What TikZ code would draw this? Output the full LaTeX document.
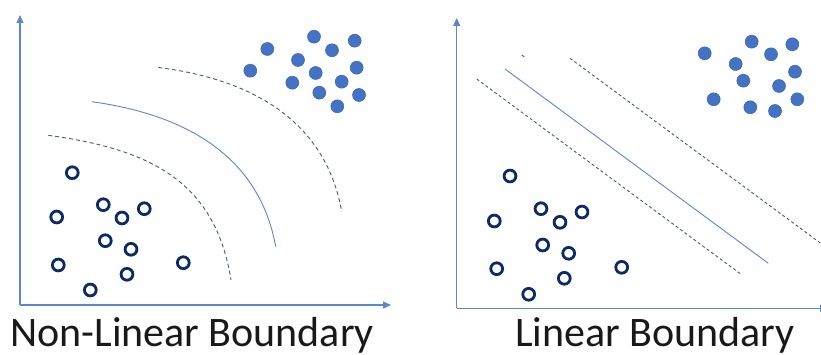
\documentclass[tikz,border=0pt]{standalone}
\usepackage{fontspec}
\setmainfont{Carlito}
\usetikzlibrary{arrows.meta}
\definecolor{axisblue}{HTML}{5B86D0}
\definecolor{dotblue}{HTML}{4472C4}
\definecolor{dotedge}{HTML}{3A64AE}
\definecolor{navy}{HTML}{0B2A66}
\definecolor{slate}{HTML}{4A5A78}
\definecolor{lineblue}{HTML}{5B86D0}
\begin{document}
\begin{tikzpicture}[x=1pt,y=-1pt,
  axis/.style={draw=axisblue,line width=1.1pt,-{Triangle[length=8pt,width=7pt]}},
  fdot/.style={circle,fill=dotblue,draw=dotedge,line width=0.5pt,minimum size=13pt,inner sep=0pt},
  odot/.style={circle,draw=navy,line width=2.8pt,minimum size=11.8pt,inner sep=0pt},
  margin/.style={draw=slate,line width=0.9pt,dash pattern=on 4pt off 3pt},
  margintwo/.style={draw=slate,line width=0.9pt,dash pattern=on 3pt off 2.5pt},
  boundary/.style={draw=lineblue,line width=0.9pt},
  label/.style={anchor=base west,inner sep=0pt,text=black!90,font=\fontsize{42}{42}\selectfont}]
\useasboundingbox (0,0) rectangle (821,355);
\clip (0,0) rectangle (821,355);

% ---------- left panel ----------
\coordinate (lo) at (20,305);
\coordinate (ly) at (20,15);
\coordinate (lx) at (391,305);
\draw[axis] (lo) -- (ly);
\draw[axis] (lo) -- (lx);

\coordinate (a0) at (48.3,135.3);
\coordinate (a3) at (231,280);
\draw[margin] (a0) .. controls (148.3,149) and (215,180) .. (a3);
\coordinate (b0) at (91.7,101.7);
\coordinate (b3) at (275.7,246.7);
\draw[boundary] (b0) .. controls (183.7,114.3) and (259.1,154.7) .. (b3);
\coordinate (c0) at (158.3,67.5);
\coordinate (c3) at (341.7,211.7);
\draw[margin] (c0) .. controls (250.3,78.9) and (325.5,119.7) .. (c3);

\node[fdot] (lf1) at (267.3,49) {};
\node[fdot] (lf2) at (314,36.7) {};
\node[fdot] (lf3) at (354.7,40.7) {};
\node[fdot] (lf4) at (332,50.3) {};
\node[fdot] (lf5) at (298,60) {};
\node[fdot] (lf6) at (250.3,70.7) {};
\node[fdot] (lf7) at (315.7,73) {};
\node[fdot] (lf8) at (356.7,67.7) {};
\node[fdot] (lf9) at (292.3,82.7) {};
\node[fdot] (lf10) at (341.7,81.7) {};
\node[fdot] (lf11) at (319.3,92.7) {};
\node[fdot] (lf12) at (359,95) {};
\node[fdot] (lf13) at (337.3,106.3) {};

\node[odot] (lo1) at (72.3,172.7) {};
\node[odot] (lo2) at (103.3,204.7) {};
\node[odot] (lo3) at (144.3,208.7) {};
\node[odot] (lo4) at (56.7,217) {};
\node[odot] (lo5) at (122,218) {};
\node[odot] (lo6) at (105.3,240.7) {};
\node[odot] (lo7) at (131,249.3) {};
\node[odot] (lo8) at (58.3,265) {};
\node[odot] (lo9) at (183.3,262.7) {};
\node[odot] (lo10) at (127,274.3) {};
\node[odot] (lo11) at (90.3,290) {};

\node[label] (t1) at (10,346) {Non-Linear Boundary};

% ---------- right panel ----------
\coordinate (ro) at (456.7,308.3);
\coordinate (ry) at (456.7,18);
\coordinate (rx) at (828,308.3);
\draw[axis] (ro) -- (ry);
\draw[axis] (ro) -- (rx);

\coordinate (d0) at (476.7,79);
\coordinate (d1) at (740.7,274);
\draw[margintwo] (d0) -- (d1);
\coordinate (e0) at (505,69);
\coordinate (e1) at (768.3,263.3);
\draw[boundary] (e0) -- (e1);
\coordinate (f0) at (570,58.3);
\coordinate (f1) at (821,243.5);
\draw[margintwo] (f0) -- (f1);
\coordinate (g0) at (521.7,55);
\coordinate (g1) at (524.3,56.9);
\draw[draw=slate,line width=0.9pt] (g0) -- (g1);

\node[fdot] (rf1) at (704.7,53.3) {};
\node[fdot] (rf2) at (751.7,41.7) {};
\node[fdot] (rf3) at (792.3,44.3) {};
\node[fdot] (rf4) at (771,54.3) {};
\node[fdot] (rf5) at (735.7,64) {};
\node[fdot] (rf6) at (795,71.7) {};
\node[fdot] (rf7) at (743.3,80.7) {};
\node[fdot] (rf8) at (779,86) {};
\node[fdot] (rf9) at (713.7,99.3) {};
\node[fdot] (rf10) at (797.3,99.3) {};
\node[fdot] (rf11) at (750.3,107.3) {};
\node[fdot] (rf12) at (775,111) {};

\node[odot] (ro1) at (510,176) {};
\node[odot] (ro2) at (541,208.7) {};
\node[odot] (ro3) at (582,212) {};
\node[odot] (ro4) at (494.3,221) {};
\node[odot] (ro5) at (560,222.3) {};
\node[odot] (ro6) at (542.7,245) {};
\node[odot] (ro7) at (568.7,253.3) {};
\node[odot] (ro8) at (496.7,268.7) {};
\node[odot] (ro9) at (621.7,267.3) {};
\node[odot] (ro10) at (564.3,278.3) {};
\node[odot] (ro11) at (528.7,294.3) {};

\node[label] (t2) at (515,346) {Linear Boundary};
\end{tikzpicture}
\end{document}
